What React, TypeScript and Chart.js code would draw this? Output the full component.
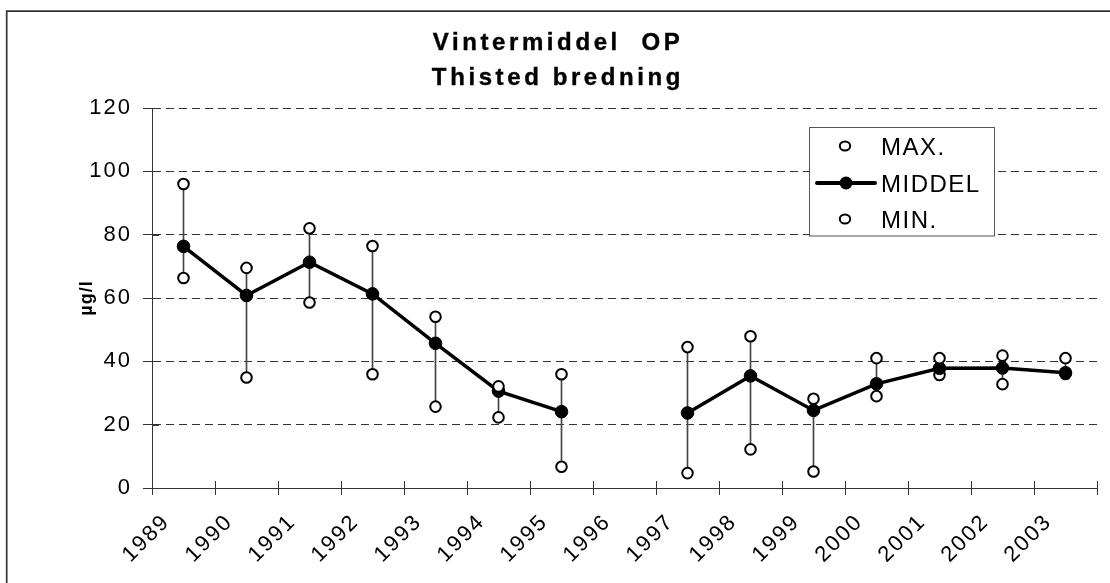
import React, { useEffect, useRef } from 'react';
import { Chart, registerables } from 'chart.js';

Chart.register(...registerables);

// ---- data ----
const years = ['1989', '1990', '1991', '1992', '1993', '1994', '1995', '1996', '1997', '1998', '1999', '2000', '2001', '2002', '2003'];
const maxValues = [96, 69.5, 82, 76.4, 54.1, 32.1, 35.9, null, 44.5, 47.9, 28.2, 41, 41, 41.8, 41];
const meanValues = [76.3, 60.8, 71.3, 61.3, 45.7, 30.6, 24.1, null, 23.7, 35.4, 24.5, 32.9, 37.8, 37.9, 36.4];
const minValues = [66.3, 34.9, 58.6, 35.9, 25.7, 22.3, 6.7, null, 4.7, 12.2, 5.2, 29, 35.7, 32.8, 36];
const yTickValues = [0, 20, 40, 60, 80, 100, 120];
const titleLines = ['Vintermiddel  OP', 'Thisted bredning'];
const yAxisTitle = 'µg/l';
const legendLabels = ['MAX.', 'MIDDEL', 'MIN.'];

const FONT = "'Liberation Sans', Arial, Helvetica, sans-serif";

Chart.defaults.font.family = FONT;
Chart.defaults.font.size = 22;
Chart.defaults.color = '#000';

const decorPlugin = {
  id: 'decor',
  beforeDraw(chart: any) {
    const ctx = chart.ctx;
    ctx.letterSpacing = '2px';
    ctx.save();
    ctx.strokeStyle = '#333';
    ctx.lineWidth = 1.7;
    ctx.beginPath();
    ctx.moveTo(6.7, 600);
    ctx.lineTo(6.7, 11.2);
    ctx.lineTo(1120, 11.2);
    ctx.stroke();
    ctx.restore();
  },
  beforeDatasetsDraw(chart: any) {
    const ctx = chart.ctx;
    const { x, y } = chart.scales;
    const area = chart.chartArea;
    ctx.save();
    ctx.strokeStyle = '#333';
    ctx.lineWidth = 1;
    ctx.beginPath();
    yTickValues.forEach((v) => {
      const py = Math.round(y.getPixelForValue(v)) + 0.5;
      ctx.moveTo(area.left, py);
      ctx.lineTo(area.left + 7, py);
    });
    for (let i = 0; i <= years.length; i++) {
      const px = Math.round(x.getPixelForValue(i - 0.5)) + 0.5;
      ctx.moveTo(px, area.bottom);
      ctx.lineTo(px, area.bottom - 7);
    }
    ctx.stroke();
    ctx.restore();
  },
  afterDraw(chart: any) {
    const ctx = chart.ctx;
    ctx.save();
    // title
    ctx.fillStyle = '#000';
    ctx.strokeStyle = '#000';
    ctx.lineWidth = 0.4;
    ctx.font = `bold 24px ${FONT}`;
    ctx.letterSpacing = '3.6px';
    ctx.textAlign = 'center';
    ctx.textBaseline = 'alphabetic';
    titleLines.forEach((t, i) => {
      ctx.fillText(t, 558, 50 + i * 35);
      ctx.strokeText(t, 558, 50 + i * 35);
    });

    // y axis title
    ctx.save();
    ctx.translate(87, 298);
    ctx.rotate(-Math.PI / 2);
    ctx.font = `bold 18px ${FONT}`;
    ctx.letterSpacing = '1px';
    ctx.textAlign = 'center';
    ctx.textBaseline = 'middle';
    ctx.fillText(yAxisTitle, 0, 0);
    ctx.restore();

    // legend
    const lx = 809.5, ly = 127.5, lw = 185, lh = 108.5;
    ctx.fillStyle = '#fff';
    ctx.fillRect(lx, ly, lw, lh);
    ctx.strokeStyle = '#555';
    ctx.lineWidth = 1;
    ctx.strokeRect(lx, ly, lw, lh);

    const rows = [146, 183, 219];
    ctx.strokeStyle = '#000';
    ctx.fillStyle = '#fff';
    ctx.lineWidth = 2;
    ctx.beginPath();
    ctx.ellipse(845, rows[0], 5.2, 4.6, 0, 0, Math.PI * 2);
    ctx.fill();
    ctx.stroke();
    ctx.beginPath();
    ctx.ellipse(845, rows[2], 5.2, 4.6, 0, 0, Math.PI * 2);
    ctx.fill();
    ctx.stroke();
    ctx.lineWidth = 4;
    ctx.lineCap = 'round';
    ctx.beginPath();
    ctx.moveTo(817, rows[1]);
    ctx.lineTo(875, rows[1]);
    ctx.stroke();
    ctx.fillStyle = '#000';
    ctx.beginPath();
    ctx.arc(846, rows[1], 6.5, 0, Math.PI * 2);
    ctx.fill();

    ctx.fillStyle = '#000';
    ctx.font = `24px ${FONT}`;
    ctx.letterSpacing = '1.5px';
    ctx.textAlign = 'left';
    ctx.textBaseline = 'alphabetic';
    ctx.fillText(legendLabels[0], 881, 155);
    ctx.fillText(legendLabels[1], 881, 192);
    ctx.fillText(legendLabels[2], 881, 228);
    ctx.restore();
  },
};

export default function App() {
  const canvasRef = useRef<HTMLCanvasElement | null>(null);

  useEffect(() => {
    const canvas = canvasRef.current;
    if (!canvas) return;
    const hiLow = years.map((_, i) =>
      minValues[i] == null || maxValues[i] == null ? null : [minValues[i], maxValues[i]]
    );
    const openCircle = {
      showLine: false,
      pointStyle: 'circle',
      pointRadius: 5.3,
      pointHoverRadius: 5.3,
      pointBorderWidth: 2,
      pointBackgroundColor: '#fff',
      pointBorderColor: '#000',
      borderColor: '#000',
      backgroundColor: '#fff',
    };
    const tickFont = { size: 22, family: FONT };
    const chart = new Chart(canvas, {
      type: 'line',
      data: {
        labels: years,
        datasets: [
          { ...openCircle, type: 'line', label: legendLabels[0], data: maxValues, order: 0 } as any,
          {
            type: 'line',
            label: legendLabels[1],
            data: meanValues,
            borderColor: '#000',
            borderWidth: 3.5,
            pointRadius: 6.3,
            pointHoverRadius: 6.3,
            pointBorderWidth: 1,
            pointBackgroundColor: '#000',
            pointBorderColor: '#000',
            spanGaps: false,
            order: 1,
          } as any,
          { ...openCircle, type: 'line', label: legendLabels[2], data: minValues, order: 2 } as any,
          {
            type: 'bar',
            label: 'hilow',
            data: hiLow,
            backgroundColor: '#444',
            borderWidth: 0,
            barThickness: 1,
            order: 3,
          } as any,
        ],
      },
      options: {
        animation: false,
        responsive: false,
        devicePixelRatio: 1,
        events: [],
        font: tickFont,
        layout: { padding: { top: 108, left: 0, right: 13, bottom: 0 } },
        plugins: {
          legend: { display: false },
          title: { display: false },
          tooltip: { enabled: false },
        },
        scales: {
          x: {
            type: 'category',
            offset: true,
            grid: {
              display: true,
              drawOnChartArea: false,
              drawTicks: true,
              tickLength: 7,
              offset: true,
              color: '#333',
              tickColor: '#333',
            },
            border: { display: true, color: '#333', width: 1 },
            ticks: {
              autoSkip: false,
              minRotation: 45,
              maxRotation: 45,
              color: '#000',
              font: tickFont,
              padding: 14,
              labelOffset: -17,
            },
            afterFit: (s: any) => {
              s.height = 95;
            },
          },
          y: {
            min: 0,
            max: 120,
            ticks: {
              stepSize: 20,
              color: '#000',
              font: tickFont,
              padding: 11,
            },
            afterBuildTicks: (s: any) => {
              s.ticks = yTickValues.map((v) => ({ value: v }));
            },
            grid: {
              color: '#333',
              lineWidth: 1,
              drawTicks: true,
              tickLength: 9,
              tickColor: '#333',
            },
            border: { display: true, color: '#333', width: 1, dash: [8, 5] },
            afterFit: (s: any) => {
              s.width = 152;
            },
          },
        },
      } as any,
      plugins: [decorPlugin],
    });
    return () => chart.destroy();
  }, []);

  return (
    <div style={{ position: 'absolute', left: 0, top: 0, width: 1110, height: 583, background: '#fff' }}>
      <canvas ref={canvasRef} width={1110} height={583} style={{ display: 'block', width: 1110, height: 583 }} />
    </div>
  );
}
